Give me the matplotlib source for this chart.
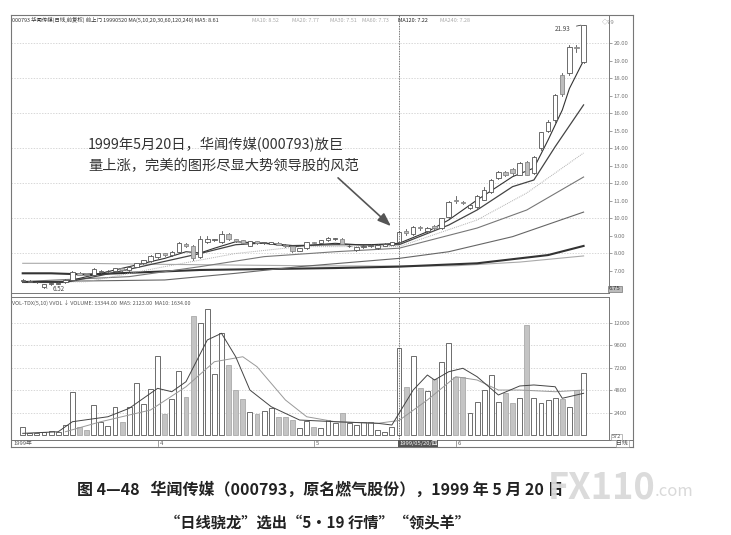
import matplotlib
matplotlib.use("Agg")
import matplotlib.pyplot as plt
from matplotlib.patches import Rectangle

plt.rcParams['font.family'] = ['Noto Sans CJK SC', 'DejaVu Sans']

# 日K数据 (从图上读出, 1999-03 ~ 1999-06)
opens = [6.45, 6.40, 6.35, 6.10, 6.25, 6.28, 6.35, 6.50, 6.90, 6.82,
         6.77, 6.95, 7.00, 6.98, 7.15, 7.05, 7.25, 7.45, 7.55, 7.80,
         8.00, 7.90, 8.10, 8.55, 8.40, 7.80, 8.65, 8.75, 8.65, 9.10,
         8.80, 8.75, 8.45, 8.70, 8.58, 8.55, 8.62, 8.50, 8.40, 8.15,
         8.30, 8.65, 8.60, 8.75, 8.80, 8.85, 8.40, 8.20, 8.35, 8.40,
         8.30, 8.45, 8.50, 8.65, 9.30, 9.10, 9.52, 9.30, 9.55, 9.45,
         10.10, 11.05, 10.95, 10.60, 10.65, 11.05, 11.50, 12.30, 12.65, 12.80,
         12.50, 13.20, 12.60, 14.00, 15.00, 15.60, 18.20, 18.30, 19.80, 18.90]
highs = [6.55, 6.46, 6.40, 6.28, 6.33, 6.36, 6.52, 6.98, 6.95, 6.85,
         7.15, 7.05, 7.06, 7.20, 7.18, 7.28, 7.48, 7.65, 7.90, 8.05,
         8.05, 8.15, 8.65, 8.60, 8.50, 9.00, 9.00, 8.85, 9.30, 9.15,
         8.85, 8.78, 8.72, 8.74, 8.68, 8.68, 8.65, 8.52, 8.42, 8.32,
         8.68, 8.68, 8.78, 8.95, 8.90, 8.88, 8.48, 8.38, 8.48, 8.52,
         8.52, 8.58, 8.68, 9.30, 9.40, 9.55, 9.58, 9.50, 9.60, 10.05,
         11.00, 11.25, 11.00, 10.80, 11.35, 11.80, 12.25, 12.70, 12.70, 12.90,
         13.20, 13.25, 13.55, 14.95, 15.60, 17.10, 18.30, 19.90, 19.90, 21.05]
lows = [6.40, 6.35, 6.30, 6.03, 6.20, 6.25, 6.32, 6.48, 6.78, 6.72,
        6.75, 6.90, 6.95, 6.95, 7.02, 7.02, 7.22, 7.40, 7.52, 7.75,
        7.85, 7.88, 8.05, 8.35, 7.60, 7.75, 8.60, 8.70, 8.60, 8.75,
        8.65, 8.55, 8.40, 8.55, 8.55, 8.52, 8.48, 8.38, 8.10, 8.12,
        8.28, 8.56, 8.58, 8.72, 8.76, 8.52, 8.36, 8.16, 8.32, 8.38,
        8.28, 8.42, 8.48, 8.60, 9.05, 9.05, 9.35, 9.25, 9.42, 9.40,
        10.05, 10.85, 10.80, 10.55, 10.60, 11.05, 11.45, 12.25, 12.40, 12.50,
        12.45, 12.45, 12.55, 13.90, 14.90, 15.50, 17.00, 18.20, 19.50, 18.85]
closes = [6.50, 6.42, 6.38, 6.25, 6.30, 6.33, 6.50, 6.92, 6.80, 6.75,
          7.10, 7.00, 7.02, 7.15, 7.05, 7.25, 7.45, 7.60, 7.85, 8.00,
          7.90, 8.10, 8.60, 8.40, 7.75, 8.85, 8.80, 8.80, 9.10, 8.80,
          8.70, 8.60, 8.70, 8.60, 8.64, 8.65, 8.50, 8.40, 8.15, 8.30,
          8.65, 8.60, 8.75, 8.90, 8.86, 8.55, 8.45, 8.35, 8.45, 8.50,
          8.50, 8.55, 8.65, 9.20, 9.15, 9.50, 9.45, 9.45, 9.48, 10.00,
          10.95, 11.00, 10.85, 10.75, 11.30, 11.60, 12.20, 12.65, 12.50, 12.60,
          13.15, 12.50, 13.50, 14.90, 15.50, 17.05, 17.10, 19.80, 19.70, 21.00]
volumes = [870, 300, 300, 400, 500, 400, 1120, 4670, 940, 600,
           3250, 1470, 1000, 3070, 1420, 3000, 5630, 3360, 4920, 8480,
           2290, 3860, 6920, 4100, 12750, 12040, 13460, 6560, 10900, 7520,
           4850, 3880, 2540, 2290, 2650, 2900, 2010, 2010, 1650, 760,
           1540, 940, 760, 1650, 1300, 2360, 1300, 1120, 1420, 1420,
           600, 400, 900, 9330, 5200, 8480, 5060, 4750, 5990, 7880,
           9830, 6280, 6280, 2360, 3600, 4850, 6450, 3600, 4500, 3430,
           3970, 11790, 3970, 3500, 3790, 3970, 3880, 3070, 4850, 6700]

# 均线 (按图读取的若干点)
ma5_idx = [0, 6, 11, 15, 20, 23, 25, 27, 30, 34, 38, 44, 48, 53, 57, 60, 64, 69, 72, 74, 76, 77, 79]
ma5 = [6.40, 6.39, 6.87, 7.25, 7.72, 8.10, 8.03, 8.30, 8.67, 8.58, 8.39, 8.58, 8.48,
       8.58, 9.24, 9.91, 11.05, 12.38, 12.87, 14.47, 16.18, 17.40, 19.00]
ma10_idx = [0, 6, 11, 15, 20, 25, 30, 34, 38, 44, 48, 53, 60, 64, 69, 72, 75, 79]
ma10 = [6.35, 6.35, 6.75, 7.10, 7.55, 8.00, 8.50, 8.60, 8.45, 8.50, 8.50, 8.50,
        9.62, 10.48, 11.81, 12.19, 14.09, 16.47]
ma20_idx = [0, 9, 20, 30, 39, 53, 64, 71, 79]
ma20 = [6.35, 6.39, 7.25, 8.00, 8.39, 8.39, 9.91, 11.45, 13.73]
ma30_idx = [0, 15, 25, 34, 44, 53, 64, 71, 79]
ma30 = [6.40, 6.68, 7.25, 7.82, 8.10, 8.30, 9.45, 10.48, 12.36]
ma60_idx = [0, 20, 30, 39, 53, 60, 69, 79]
ma60 = [6.39, 6.49, 6.87, 7.25, 7.72, 8.10, 8.96, 10.36]
ma120_idx = [0, 4, 9, 25, 34, 44, 53, 64, 74, 79]
ma120 = [6.87, 6.87, 6.80, 7.06, 7.11, 7.17, 7.25, 7.44, 7.91, 8.43]
ma240_idx = [0, 8, 20, 40, 53, 61, 70, 79]
ma240 = [7.44, 7.44, 7.38, 7.30, 7.28, 7.30, 7.51, 7.86]

vma5_idx = [0, 5, 7, 12, 15, 19, 21, 23, 26, 28, 30, 32, 35, 39, 44, 50, 52, 53,
            55, 57, 58, 60, 62, 64, 67, 70, 72, 75, 76, 79]
vma5 = [230, 400, 1470, 2000, 2900, 5030, 4670, 5740, 10190, 10900, 8400, 4850, 3070,
        1650, 1470, 1300, 1120, 2360, 4850, 6450, 5920, 6800, 7170, 6270, 4320, 5280,
        5390, 5200, 3970, 4500]
vma10_idx = [6, 11, 18, 23, 27, 31, 33, 37, 40, 44, 50, 53, 57, 61, 64, 67, 70, 75, 79]
vma10 = [400, 1470, 2720, 5200, 7870, 8400, 7340, 3790, 2000, 1470, 1300, 1600, 3790,
         6270, 5920, 4850, 4850, 4670, 4850]

price_ticks = [7, 8, 9, 10, 11, 12, 13, 14, 15, 16, 17, 18, 19, 20]
price_grid = [8, 10, 12, 14, 16, 18, 20]
vol_ticks = [2400, 4800, 7200, 9600, 12000]
month_idx = [19, 41, 61]
month_labels = ['4', '5', '6']
cursor_idx = 53          # 1999/05/20

W, H = 731, 535
def box(x0, y0, x1, y1):
    return [x0 / W, 1 - y1 / H, (x1 - x0) / W, (y1 - y0) / H]

fig = plt.figure(figsize=(W / 100, H / 100), dpi=100)
fig.patch.set_facecolor('white')

frame = fig.add_axes(box(11, 15, 633, 447))
frame.set_xticks([]); frame.set_yticks([])
for s in frame.spines.values():
    s.set_color('#777'); s.set_linewidth(0.8)
frame.axhline(7 / 432, color='#777', lw=0.7)   # 日期栏分隔线

ax = fig.add_axes(box(11, 15, 609, 293))
axv = fig.add_axes(box(11, 297, 609, 440))
xlim = (-1.65, 82.58)

for a in (ax, axv):
    a.set_xlim(*xlim)
    a.set_xticks([])
    a.patch.set_alpha(0)
    a.yaxis.tick_right()
    a.tick_params(axis='y', direction='out', length=2, pad=1.5, labelsize=4.3,
                  colors='#777', width=0.5)
    for s in a.spines.values():
        s.set_color('#777'); s.set_linewidth(0.7)

# ---- 价格区 ----
ax.set_ylim(5.747, 21.596)
ax.set_yticks(price_ticks)
ax.set_yticklabels(['%.2f' % v for v in price_ticks])
for g in price_grid:
    ax.axhline(g, color='#c8c8c8', lw=0.5, ls=(0, (2, 2)), zorder=0)

ax.plot(ma240_idx, ma240, color='#aaaaaa', lw=0.8, zorder=2)
ax.plot(ma120_idx, ma120, color='#333333', lw=1.5, zorder=2)
ax.plot(ma60_idx, ma60, color='#666666', lw=0.8, zorder=2)
ax.plot(ma30_idx, ma30, color='#777777', lw=0.8, zorder=2)
ax.plot(ma20_idx, ma20, color='#b0b0b0', lw=0.7, ls=(0, (1, 1)), zorder=2)
ax.plot(ma10_idx, ma10, color='#444444', lw=0.9, zorder=2)
ax.plot(ma5_idx, ma5, color='#333333', lw=0.8, zorder=2)

bw = 0.62
for i in range(len(closes)):
    o, h, l, c = opens[i], highs[i], lows[i], closes[i]
    up = c >= o
    ax.plot([i, i], [l, h], color='#555', lw=0.6, zorder=3)
    bottom = min(o, c)
    height = max(abs(c - o), 0.02)
    ax.add_patch(Rectangle((i - bw / 2, bottom), bw, height,
                           facecolor='white' if up else '#bdbdbd',
                           edgecolor='#555' if up else '#888', lw=0.6, zorder=4))

ax.axvline(cursor_idx, color='#444', lw=0.6, ls=(0, (1, 1)), zorder=5)

ax.annotate('6.52', xy=(3, lows[3]), xytext=(4.2, lows[3] - 0.05), fontsize=4.5,
            color='#444', va='center', arrowprops=dict(arrowstyle='-', lw=0.6, color='#444'))
ax.annotate('21.93', xy=(79, highs[79]), xytext=(75.0, highs[79] - 0.25), fontsize=4.5,
            color='#444', va='center', arrowprops=dict(arrowstyle='-', lw=0.6, color='#444'))
ax.text(1.0, 5.98, '6.75', transform=ax.get_yaxis_transform(), fontsize=4.3,
        color='#333', va='center', ha='left',
        bbox=dict(boxstyle='square,pad=0.15', fc='#bbbbbb', ec='#777', lw=0.5), clip_on=False)
fig.text(602 / W, 1 - 21 / H, '◇79', fontsize=4.3, color='#888', va='center')

# 表头
fig.text(12 / W, 1 - 20 / H, '000793 华闻传媒(日线,前复权) 前上门 19990520 MA(5,10,20,30,60,120,240) MA5: 8.61',
         fontsize=3.9, color='#333', va='center')
hdr = [(252, 'MA10: 8.52', '#aaa'), (292, 'MA20: 7.77', '#aaa'), (330, 'MA30: 7.51', '#aaa'),
       (362, 'MA60: 7.73', '#aaa'), (398, 'MA120: 7.22', '#222'), (440, 'MA240: 7.28', '#aaa')]
for x, t, col in hdr:
    fig.text(x / W, 1 - 20 / H, t, fontsize=3.9, color=col, va='center')

# 注释
fig.text(88 / W, 1 - 145 / H, '1999年5月20日，华闻传媒(000793)放巨', fontsize=10.3,
         color='#333', va='center')
fig.text(88 / W, 1 - 166 / H, '量上涨，完美的图形尽显大势领导股的风范', fontsize=10.3,
         color='#333', va='center')
ax.annotate('', xy=(393 / W, 1 - 228 / H), xytext=(336 / W, 1 - 176 / H),
            xycoords='figure fraction', textcoords='figure fraction',
            arrowprops=dict(arrowstyle='-|>,head_length=0.8,head_width=0.3', color='#555', lw=1.2))

# ---- 成交量区 ----
axv.set_ylim(-480, 14773)
axv.set_yticks(vol_ticks)
axv.set_yticklabels([str(v) for v in vol_ticks])
for g in vol_ticks:
    axv.axhline(g, color='#c8c8c8', lw=0.5, ls=(0, (2, 2)), zorder=0)
for i, v in enumerate(volumes):
    up = closes[i] >= opens[i]
    axv.bar(i, v, width=0.7, color='white' if up else '#c4c4c4',
            edgecolor='#555' if up else '#aaa', lw=0.6, zorder=3)
axv.plot(vma10_idx, vma10, color='#999', lw=0.7, zorder=4)
axv.plot(vma5_idx, vma5, color='#444', lw=0.7, zorder=4)
axv.axvline(cursor_idx, color='#444', lw=0.6, ls=(0, (1, 1)), zorder=5)
fig.text(12 / W, 1 - 303 / H, 'VOL-TDX(5,10) VVOL ↓ VOLUME: 13344.00  MA5: 2123.00  MA10: 1634.00',
         fontsize=3.9, color='#555', va='center')
axv.text(1.005, -160, '572', transform=axv.get_yaxis_transform(), fontsize=4, color='#555',
         va='center', bbox=dict(boxstyle='square,pad=0.1', fc='white', ec='#888', lw=0.4),
         clip_on=False)

# ---- 日期栏 ----
axd = fig.add_axes(box(11, 440, 633, 447))
axd.set_xlim(xlim[0], xlim[0] + (xlim[1] - xlim[0]) * 622 / 598)
axd.set_ylim(0, 1)
axd.axis('off')
axd.text(-1.3, 0.5, '1999年', fontsize=4.2, color='#555', va='center')
for m, lab in zip(month_idx, month_labels):
    axd.plot([m, m], [0.2, 1], color='#777', lw=0.5)
    axd.text(m + 0.3, 0.5, lab, fontsize=4.2, color='#555', va='center')
axd.text(cursor_idx, 0.5, '1999/05/20/四', fontsize=4.2, color='white', va='center',
         bbox=dict(boxstyle='square,pad=0.12', fc='#555', ec='none'))
axd.text(83.6, 0.5, '日线', fontsize=4.2, color='#444', va='center',
         bbox=dict(boxstyle='square,pad=0.1', fc='white', ec='#888', lw=0.4))

# ---- 图注 ----
fig.text(77 / W, 1 - 490 / H, '图 4—48   华闻传媒（000793，原名燃气股份），1999 年 5 月 20 日',
         fontsize=11.5, fontweight='bold', color='#222', va='center')
fig.text(165 / W, 1 - 523 / H, '“日线骁龙”选出“5・19 行情”“领头羊”',
         fontsize=11, fontweight='bold', color='#222', va='center')
fig.text(548 / W, 1 - 488 / H, 'FX110', fontsize=26, fontweight='bold', color='#d9d9d9',
         va='center', alpha=0.95)
fig.text(655 / W, 1 - 492 / H, '.com', fontsize=12, color='#d9d9d9', va='center')

fig.savefig('out.png', dpi=100, facecolor='white')
